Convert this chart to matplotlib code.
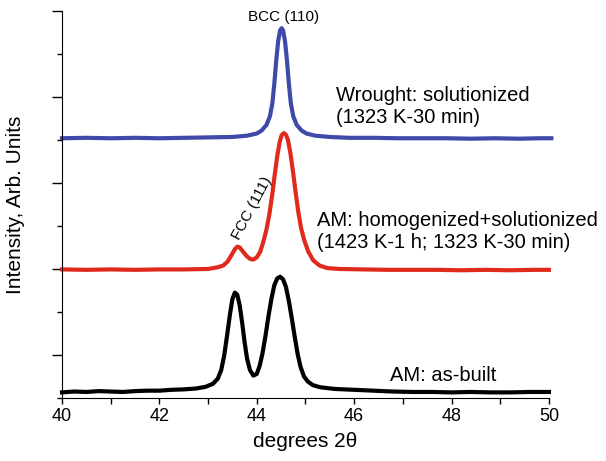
import numpy as np
import matplotlib
matplotlib.use("Agg")
import matplotlib.pyplot as plt
from matplotlib.ticker import MultipleLocator

plt.rcParams["font.family"] = ["Liberation Sans", "DejaVu Sans"]

# Wrought: solutionized (blue)
blue_x = [40.0, 40.5, 41.0, 41.5, 42.0, 42.5, 43.0, 43.5, 43.8, 44.0, 44.1, 44.2, 44.27,
          44.32, 44.36, 44.40, 44.44, 44.48, 44.51, 44.54, 44.58, 44.62, 44.66, 44.70,
          44.75, 44.82, 44.92, 45.02, 45.2, 45.5, 45.9, 46.4, 46.9, 47.4, 47.9, 48.4,
          48.9, 49.4, 49.8, 50.05]
blue_y = [6.04, 6.05, 6.04, 6.05, 6.04, 6.05, 6.06, 6.07, 6.10, 6.15, 6.22, 6.35, 6.55,
          6.85, 7.30, 7.85, 8.30, 8.55, 8.60, 8.55, 8.30, 7.85, 7.30, 6.85,
          6.55, 6.35, 6.22, 6.15, 6.10, 6.07, 6.05, 6.05, 6.04, 6.04, 6.04, 6.03,
          6.04, 6.03, 6.04, 6.04]

# AM: homogenized+solutionized (red)
red_x = [40.0, 40.5, 41.0, 41.5, 42.0, 42.5, 43.0, 43.2, 43.31, 43.40, 43.48, 43.55, 43.60,
         43.65, 43.72, 43.80, 43.87, 43.93, 44.00, 44.07, 44.14, 44.20, 44.26, 44.32,
         44.37, 44.42, 44.47, 44.51, 44.555, 44.60, 44.64, 44.69, 44.74, 44.79, 44.85,
         44.91, 44.98, 45.06, 45.16, 45.29, 45.45, 45.7, 46.2, 46.7, 47.2, 47.7, 48.2,
         48.7, 49.2, 49.7, 50.0]
red_y = [2.99, 2.98, 2.99, 2.98, 2.99, 2.99, 3.00, 3.04, 3.08, 3.17, 3.32, 3.46, 3.52,
         3.50, 3.40, 3.29, 3.23, 3.22, 3.27, 3.40, 3.65, 3.92, 4.28, 4.75,
         5.20, 5.62, 5.95, 6.11, 6.16, 6.12, 6.00, 5.70, 5.30, 4.85, 4.35,
         3.95, 3.65, 3.40, 3.20, 3.08, 3.02, 3.00, 2.99, 2.98, 2.98, 2.98, 2.97,
         2.98, 2.97, 2.98, 2.98]

# AM: as-built (black)
black_x = [40.0, 40.25, 40.5, 40.75, 41.0, 41.25, 41.5, 41.75, 42.0, 42.25, 42.5, 42.75,
           42.95, 43.1, 43.2, 43.27, 43.33, 43.39, 43.45, 43.50, 43.55, 43.60, 43.65,
           43.70, 43.75, 43.80, 43.86, 43.93, 44.00, 44.06, 44.12, 44.18, 44.24, 44.30,
           44.36, 44.42, 44.48, 44.54, 44.60, 44.66, 44.72, 44.78, 44.84, 44.90, 44.97,
           45.05, 45.15, 45.3, 45.6, 46.0, 46.4, 46.8, 47.2, 47.6, 48.0, 48.4, 48.8,
           49.2, 49.6, 50.0]
black_y = [0.13, 0.15, 0.14, 0.16, 0.15, 0.14, 0.16, 0.17, 0.17, 0.19, 0.20, 0.22,
           0.26, 0.33, 0.45, 0.65, 0.98, 1.45, 1.95, 2.30, 2.45, 2.40, 2.15,
           1.75, 1.30, 0.92, 0.65, 0.52, 0.56, 0.75, 1.05, 1.45, 1.90, 2.30,
           2.62, 2.78, 2.82, 2.76, 2.58, 2.25, 1.85, 1.42, 1.02, 0.72, 0.50,
           0.38, 0.30, 0.25, 0.21, 0.19, 0.17, 0.15, 0.14, 0.14, 0.13, 0.14, 0.13,
           0.13, 0.14, 0.14]

fig = plt.figure(figsize=(6.06, 4.61), dpi=100)
ax = fig.add_axes([0.1023, 0.1367, 0.8035, 0.8395])

ax.plot(blue_x, blue_y, color="#3f4aa8", lw=3, solid_joinstyle="round", clip_on=False)
ax.plot(red_x, red_y, color="#e02a1c", lw=3, solid_joinstyle="round", clip_on=False)
ax.plot(black_x, black_y, color="black", lw=3, solid_joinstyle="round", clip_on=False)

ax.set_xlim(40, 50)
ax.set_ylim(0, 9)
ax.spines["top"].set_visible(False)
ax.spines["right"].set_visible(False)
ax.xaxis.set_major_locator(MultipleLocator(2))
ax.xaxis.set_minor_locator(MultipleLocator(1))
ax.set_yticks([1, 3, 5, 7, 9])
ax.set_yticks([0, 2, 4, 6, 8], minor=True)
ax.set_yticklabels([])
ax.tick_params(axis="x", which="both", direction="out", length=4, width=1, labelsize=13)
ax.tick_params(axis="y", which="major", direction="out", length=7, width=1)
ax.tick_params(axis="y", which="minor", direction="out", length=3.5, width=1)

ax.set_xlabel("degrees 2θ", fontsize=15, labelpad=5)
ax.set_ylabel("Intensity, Arb. Units", fontsize=15, labelpad=16)

ax.text(44.56, 8.86, "BCC (110)", fontsize=11, ha="center", va="center")
ax.text(43.91, 4.41, "FCC (111)", fontsize=11, ha="center", va="center", rotation=62)
ax.text(45.63, 6.79, "Wrought: solutionized\n(1323 K-30 min)", fontsize=14.5,
        ha="left", va="center", linespacing=1.2)
ax.text(45.24, 3.88, "AM: homogenized+solutionized\n(1423 K-1 h; 1323 K-30 min)", fontsize=14.5,
        ha="left", va="center", linespacing=1.2)
ax.text(46.73, 0.53, "AM: as-built", fontsize=14.5, ha="left", va="center")

fig.savefig("out.png", dpi=100)
